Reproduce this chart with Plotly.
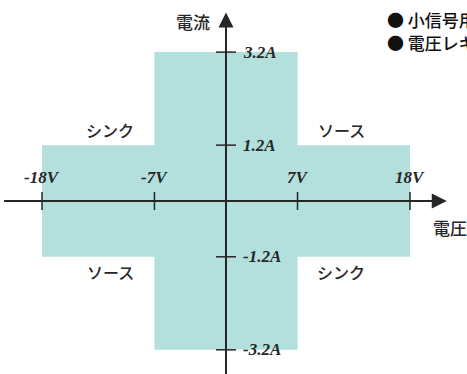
"""電圧・電流の動作領域図 (ソース/シンク) を Plotly で再現."""

import plotly.graph_objects as go

# データ
V_WIDE = 18      # 広い領域の電圧 (V)
V_NARROW = 7     # 狭い領域の電圧 (V)
I_TALL = 3.2     # 狭い領域の電流 (A)
I_WIDE = 1.2     # 広い領域の電流 (A)

V_TICKS = [-18, -7, 7, 18]
V_TICK_LABELS = ["-18V", "-7V", "7V", "18V"]
I_TICKS = [3.2, 1.2, -1.2, -3.2]
I_TICK_LABELS = ["3.2A", "1.2A", "-1.2A", "-3.2A"]

REGION_NAMES = ["シンク", "ソース", "ソース", "シンク"]
REGION_V = [-11.3, 11.3, -11.3, 11.3]
REGION_I = [1.53, 1.53, -1.53, -1.53]

NOTES = ["● 小信号用途", "● 電圧レギュレータ"]

# スタイル
FILL = "#b3dfdd"
INK = "#262626"
JP_FONT = "Noto Sans CJK JP Medium, Noto Sans CJK JP"
NUM_FONT = "Liberation Serif"
JP_WEIGHT = 500

X_RANGE = [-22.11, 23.58]
Y_RANGE = [-3.72, 4.32]
X_ARROW = 21.6
Y_ARROW = 4.05

# 十字形の領域 (2つの長方形の和)
cross_x = [-V_WIDE, -V_NARROW, -V_NARROW, V_NARROW, V_NARROW, V_WIDE,
           V_WIDE, V_NARROW, V_NARROW, -V_NARROW, -V_NARROW, -V_WIDE, -V_WIDE]
cross_y = [I_WIDE, I_WIDE, I_TALL, I_TALL, I_WIDE, I_WIDE,
           -I_WIDE, -I_WIDE, -I_TALL, -I_TALL, -I_WIDE, -I_WIDE, I_WIDE]

fig = go.Figure()

fig.add_trace(
    go.Scatter(
        x=cross_x,
        y=cross_y,
        mode="lines",
        fill="toself",
        fillcolor=FILL,
        line=dict(width=0),
        hoverinfo="skip",
        showlegend=False,
    )
)

# 矢印の先端
fig.add_trace(
    go.Scatter(
        x=[X_ARROW, 0],
        y=[0, Y_ARROW],
        mode="markers",
        marker=dict(symbol=["arrow-right", "arrow-up"], size=15, color=INK, line=dict(width=0)),
        hoverinfo="skip",
        showlegend=False,
    )
)

shapes = [
    dict(type="line", x0=X_RANGE[0] + 0.4, x1=X_ARROW - 1.2, y0=0, y1=0,
         line=dict(color=INK, width=2), layer="above"),
    dict(type="line", x0=0, x1=0, y0=Y_RANGE[0], y1=Y_ARROW - 0.25,
         line=dict(color=INK, width=2), layer="above"),
]
for v in V_TICKS:
    shapes.append(dict(type="line", xref="x", yref="y", ysizemode="pixel", yanchor=0,
                       x0=v, x1=v, y0=-9, y1=9, line=dict(color=INK, width=1.5), layer="above"))
for i in I_TICKS:
    shapes.append(dict(type="line", xref="x", yref="y", xsizemode="pixel", xanchor=0,
                       x0=-10, x1=10, y0=i, y1=i, line=dict(color=INK, width=1.5), layer="above"))

annotations = []
for v, lab in zip(V_TICKS, V_TICK_LABELS):
    annotations.append(dict(x=v, y=0, text=f"<b><i>{lab}</i></b>", showarrow=False,
                            yshift=23, font=dict(family=NUM_FONT, size=17, color=INK)))
for i, lab in zip(I_TICKS, I_TICK_LABELS):
    annotations.append(dict(x=0, y=i, text=f"<b><i>{lab}</i></b>", showarrow=False,
                            xanchor="left", xshift=15, font=dict(family=NUM_FONT, size=17, color=INK)))
for name, v, i in zip(REGION_NAMES, REGION_V, REGION_I):
    annotations.append(dict(x=v, y=i, text=name, showarrow=False,
                            font=dict(family=JP_FONT, size=16, color=INK, weight=JP_WEIGHT)))

annotations.append(dict(x=0, y=Y_ARROW - 0.2, text="電流", showarrow=False, xanchor="right",
                        xshift=-14, font=dict(family=JP_FONT, size=17, color=INK, weight=JP_WEIGHT)))
annotations.append(dict(x=20.1, y=-0.56, text="電圧", showarrow=False, xanchor="left",
                        font=dict(family=JP_FONT, size=17, color=INK, weight=JP_WEIGHT)))
for k, note in enumerate(NOTES):
    annotations.append(dict(xref="paper", yref="paper", x=0.824, y=1 - (20 + 22 * k) / 374,
                            text=note, showarrow=False, xanchor="left", yanchor="middle",
                            font=dict(family=JP_FONT, size=17, color="#111111", weight=JP_WEIGHT)))

fig.update_layout(
    width=467,
    height=374,
    margin=dict(l=0, r=0, t=0, b=0),
    paper_bgcolor="white",
    plot_bgcolor="white",
    xaxis=dict(range=X_RANGE, visible=False, fixedrange=True),
    yaxis=dict(range=Y_RANGE, visible=False, fixedrange=True),
    shapes=shapes,
    annotations=annotations,
    showlegend=False,
)

fig.write_html("out.html", config=dict(displayModeBar=False),
               post_script="document.body.style.margin='0';")
